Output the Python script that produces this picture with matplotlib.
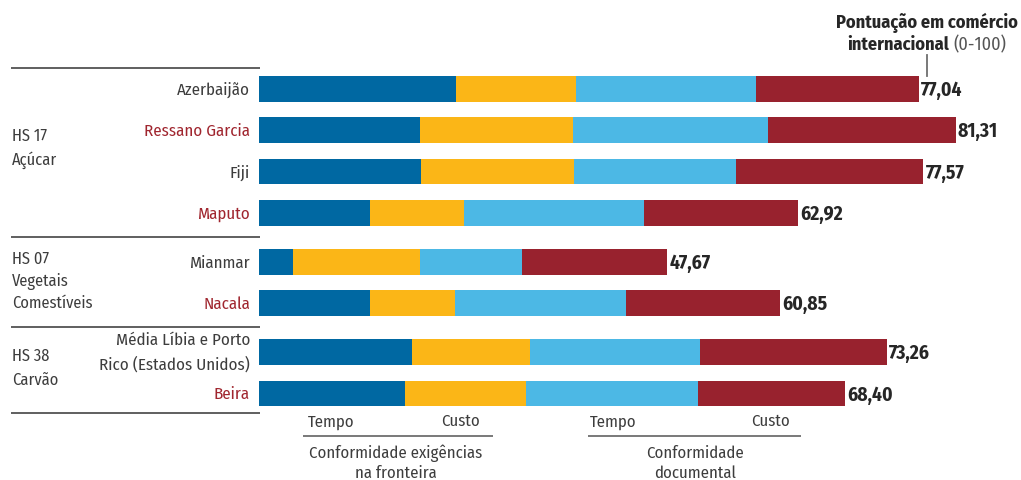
import matplotlib
matplotlib.use("Agg")
import matplotlib.pyplot as plt

plt.rcParams['font.family'] = ['Fira Sans Condensed', 'DejaVu Sans']

# ---------------- data ----------------
categories = ["Azerbaijão", "Ressano Garcia", "Fiji", "Maputo",
              "Mianmar", "Nacala",
              "Média Líbia e Porto\nRico (Estados Unidos)", "Beira"]
highlight = [False, True, False, True, False, True, False, True]
groups = [["HS 17", "Açúcar"], ["HS 07", "Vegetais", "Comestíveis"], ["HS 38", "Carvão"]]
group_sizes = [4, 2, 2]

fronteira_tempo = [22.98, 18.84, 18.89, 13.01, 3.99, 12.99, 17.88, 17.10]
fronteira_custo = [14.05, 17.88, 17.93, 10.99, 14.87, 9.92, 13.79, 14.12]
documental_tempo = [20.96, 22.76, 18.86, 20.92, 11.85, 19.96, 19.81, 20.00]
documental_custo = [19.05, 21.83, 21.89, 18.00, 16.96, 17.98, 21.78, 17.18]
totals = [77.04, 81.31, 77.57, 62.92, 47.67, 60.85, 73.26, 68.40]
total_labels = ["77,04", "81,31", "77,57", "62,92", "47,67", "60,85", "73,26", "68,40"]

# ---------------- style ----------------
C_BLUE = "#0068A2"
C_YEL = "#FBB617"
C_LBLUE = "#4CB8E5"
C_RED = "#98222E"
C_TXT = "#3d3d3d"
C_HL = "#A0262F"
C_LINE = "#6e6e6e"
FS_CAT = 12.2
FS_GRP = 11.8
FS_BOT = 12.0

W, H = 1021, 480
fig = plt.figure(figsize=(W / 100, H / 100), dpi=100)
ax = fig.add_axes([0, 0, 1, 1])
S = 8.57          # pixels per score unit
X0 = 258.7        # pixel position of score 0
ax.set_xlim(-X0 / S, (W - X0) / S)
ax.set_ylim(H, 0)
ax.axis("off")


def px(x):
    return (x - X0) / S


# row positions (layout)
row_pitch, group_gap = 41.3, 7.7
ys = []
y = 89.0
for gi, n in enumerate(group_sizes):
    for k in range(n):
        ys.append(y)
        y += row_pitch
    y += group_gap
bar_h = 25.7

segments = [fronteira_tempo, fronteira_custo, documental_tempo, documental_custo]
colors = [C_BLUE, C_YEL, C_LBLUE, C_RED]
left = [0.0] * len(categories)
for seg, col in zip(segments, colors):
    ax.barh(ys, seg, left=left, height=bar_h, color=col, edgecolor="none")
    left = [l + s for l, s in zip(left, seg)]

# totals
for yy, t, lab in zip(ys, totals, total_labels):
    ax.text(t + 0.25, yy + 1.5, lab, ha="left", va="center", fontsize=14,
            fontweight="bold", color="#262626")

# category labels
for yy, cat, hl in zip(ys, categories, highlight):
    if "\n" in cat:
        l1, l2 = cat.split("\n")
        ax.text(px(250), yy - 11.5, l1, ha="right", va="center", fontsize=FS_CAT, color=C_TXT)
        ax.text(px(250), yy + 12, l2, ha="right", va="center", fontsize=FS_CAT, color=C_TXT)
    else:
        ax.text(px(250), yy + 1, cat, ha="right", va="center", fontsize=FS_CAT,
                color=C_HL if hl else C_TXT)

# separator lines
for yy in [68.3, 236.5, 327.3, 413.3]:
    ax.plot([px(11), px(260)], [yy, yy], color="#444444", lw=1.2, solid_capstyle="butt")

# group labels
group_line_y = [[136.7, 160.0], [259.0, 281.5, 303.0], [356.7, 380.0]]
for lines, ly in zip(groups, group_line_y):
    for t, yy in zip(lines, ly):
        ax.text(px(12), yy, t, ha="left", va="center", fontsize=FS_GRP, color=C_TXT)

# header
ax.text(px(1018), 22.7, "Pontuação em comércio", ha="right", va="center",
        fontsize=13.2, fontweight="bold", color="#262626")
t_rng = ax.text(px(1006), 44.5, "(0-100)", ha="right", va="center",
                fontsize=13, color="#555555")
fig.canvas.draw()
bb = t_rng.get_window_extent(fig.canvas.get_renderer())
x_left_px = bb.x0 - 4
ax.text(px(x_left_px), 44.5, "internacional", ha="right", va="center",
        fontsize=13.2, fontweight="bold", color="#262626")
ax.plot([px(927), px(927)], [55, 76], color=C_LINE, lw=1.3)

# bottom legends
legend_specs = [
    (302.7, 493.3, 331.0, 460.0, 395.5, ["Conformidade exigências", "na fronteira"]),
    (587.7, 801.0, 613.0, 770.0, 695.0, ["Conformidade", "documental"]),
]
for x1, x2, xt, xc, xm, labs in legend_specs:
    ax.text(px(xt), 422.5, "Tempo", ha="center", va="center", fontsize=FS_BOT, color=C_TXT)
    ax.text(px(xc), 421.0, "Custo", ha="center", va="center", fontsize=FS_BOT, color=C_TXT)
    ax.plot([px(x1), px(x2)], [435.7, 435.7], color=C_LINE, lw=1.3, solid_capstyle="butt")
    ax.text(px(xm), 453.0, labs[0], ha="center", va="center", fontsize=FS_BOT, color=C_TXT)
    ax.text(px(xm), 477.5, labs[1], ha="center", va="baseline", fontsize=FS_BOT, color=C_TXT)

fig.savefig("out.png", dpi=100)
